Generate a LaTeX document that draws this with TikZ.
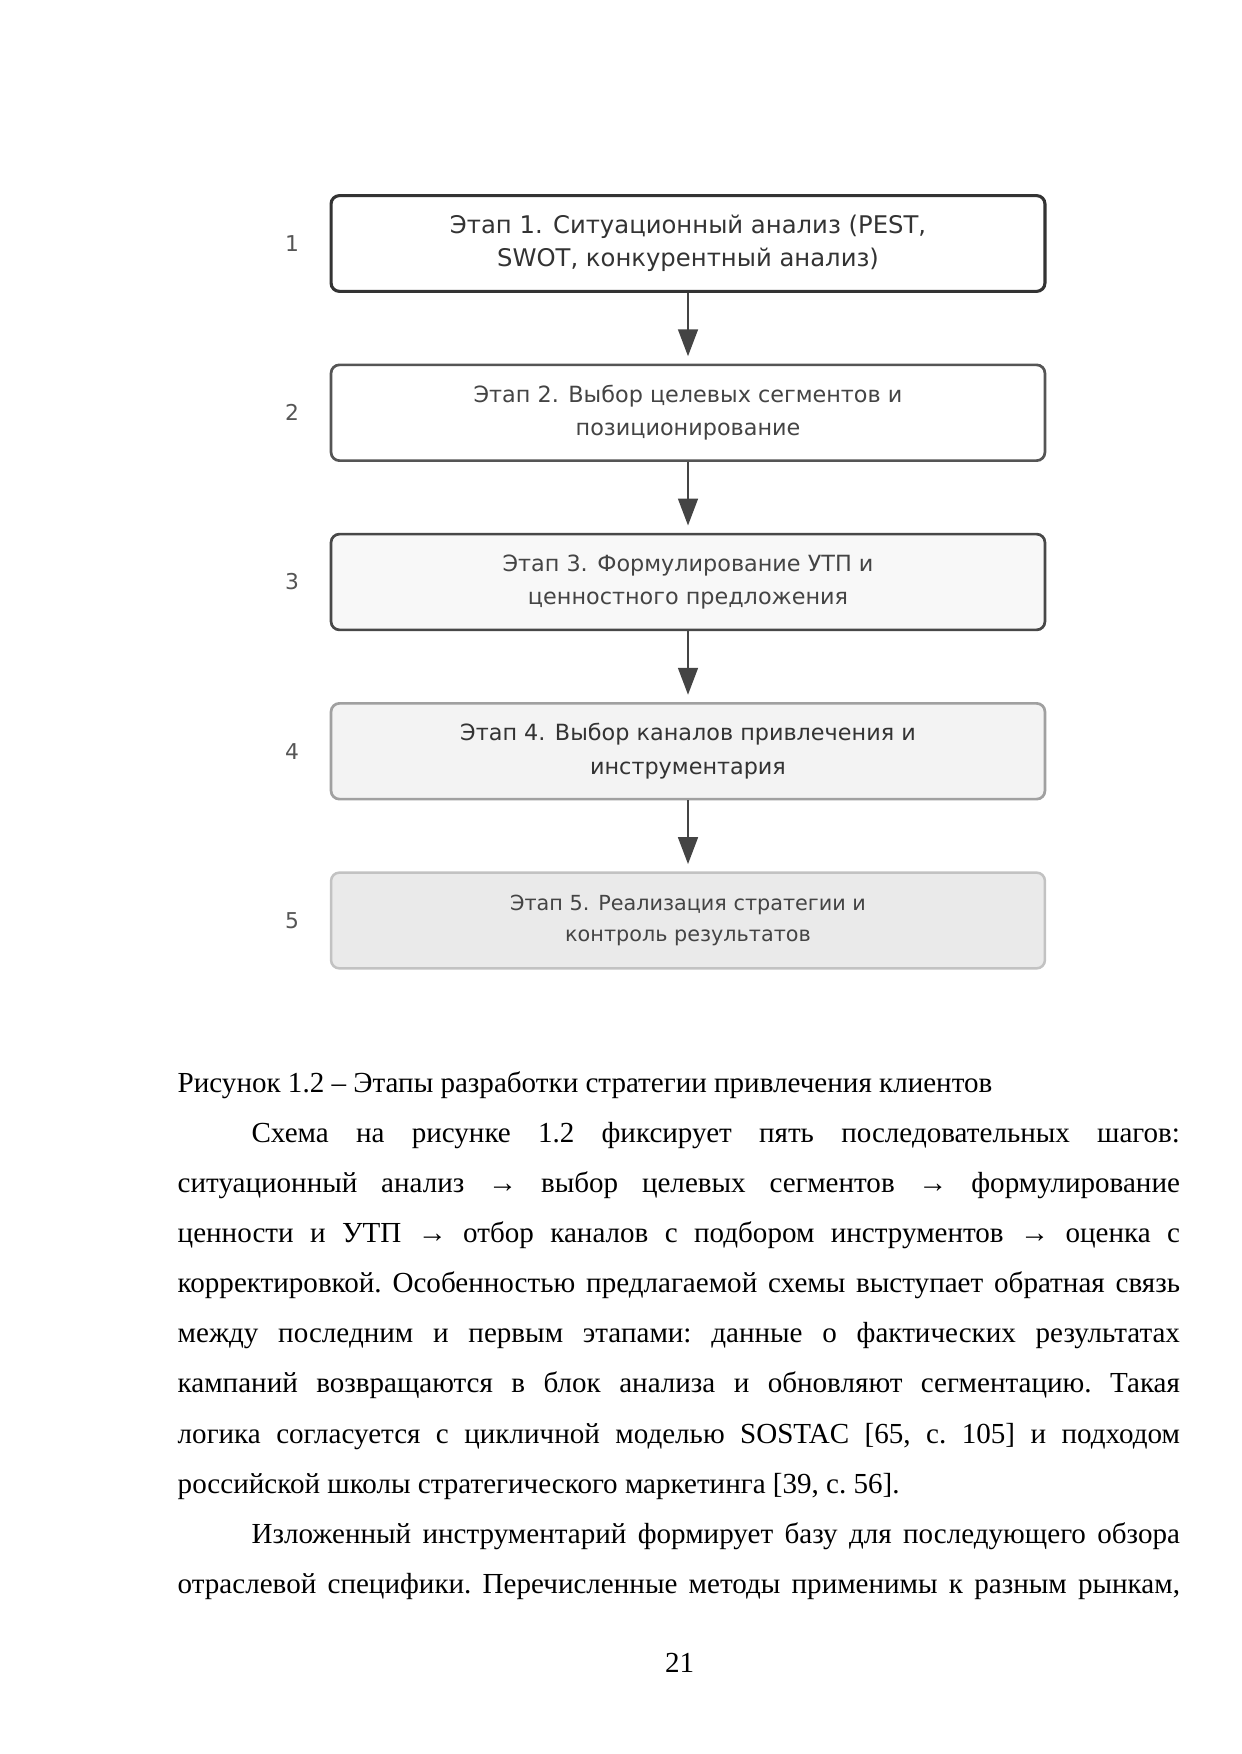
\documentclass[tikz,border=0pt]{standalone}
\usepackage{fontspec}
\setmainfont{Liberation Serif}
\newfontfamily\djv{DejaVu Sans}
\usetikzlibrary{arrows.meta}
\definecolor{bordA}{HTML}{333333}
\definecolor{bordB}{HTML}{555555}
\definecolor{bordC}{HTML}{484848}
\definecolor{bordD}{HTML}{A0A0A0}
\definecolor{bordE}{HTML}{C2C2C2}
\definecolor{fillC}{HTML}{F8F8F8}
\definecolor{fillD}{HTML}{F3F3F3}
\definecolor{fillE}{HTML}{EAEAEA}
\definecolor{txtA}{HTML}{333333}
\definecolor{txtB}{HTML}{444444}
\definecolor{numc}{HTML}{555555}
\definecolor{arrc}{HTML}{444444}
\tikzset{
  stagebox/.style={draw, rounded corners=4pt, minimum width=120.8mm, minimum height=16.2mm,
    inner sep=0pt, align=center, font=\djv\fontsize{10.75pt}{16pt}\selectfont},
  stagenum/.style={font=\djv\fontsize{10.5pt}{12pt}\selectfont, text=numc, inner sep=0pt},
  flowarrow/.style={draw=arrc, line width=1.2pt, -{Triangle[length=13pt,width=9.5pt]}, shorten >=3.5pt}
}
\begin{document}
\begin{tikzpicture}[x=0.169218mm,y=-0.169218mm]
\useasboundingbox (0,0) rectangle (1241,1754);
\fill[white] (0,0) rectangle (1241,1754);

\node[stagebox, draw=bordA, line width=1.5pt, fill=white, text=txtA,
  font=\djv\fontsize{11.7pt}{16pt}\selectfont] (b1) at (688,243.5)
  {Этап 1. Ситуационный анализ (PEST,\\SWOT, конкурентный анализ)};
\node[stagebox, draw=bordB, line width=1.3pt, fill=white, text=txtB] (b2) at (688,412.75)
  {Этап 2. Выбор целевых сегментов и\\позиционирование};
\node[stagebox, draw=bordC, line width=1.3pt, fill=fillC, text=txtB] (b3) at (688,582)
  {Этап 3. Формулирование УТП и\\ценностного предложения};
\node[stagebox, draw=bordD, line width=1.3pt, fill=fillD, text=txtA] (b4) at (688,751.25)
  {Этап 4. Выбор каналов привлечения и\\инструментария};
\node[stagebox, draw=bordE, line width=1.2pt, fill=fillE, text=txtB,
  font=\djv\fontsize{10pt}{15pt}\selectfont] (b5) at (688,920.5)
  {Этап 5. Реализация стратегии и\\контроль результатов};

\node[stagenum] (n1) at (292,243.5) {1};
\node[stagenum] (n2) at (292,412.75) {2};
\node[stagenum] (n3) at (292,582) {3};
\node[stagenum] (n4) at (292,751.25) {4};
\node[stagenum] (n5) at (292,920.5) {5};

\draw[flowarrow] (b1.south) -- (b2.north);
\draw[flowarrow] (b2.south) -- (b3.north);
\draw[flowarrow] (b3.south) -- (b4.north);
\draw[flowarrow] (b4.south) -- (b5.north);

\node[anchor=base west, inner sep=0pt] (body) at (177.3,1092) {\parbox[t]{169.6mm}{%
\fontsize{14pt}{24.15pt}\selectfont\frenchspacing
\tolerance=10000 \hyphenpenalty=10000 \exhyphenpenalty=10000
\setlength{\parindent}{1.25cm}\setlength{\parskip}{0pt}%
\noindent Рисунок 1.2 – Этапы разработки стратегии привлечения клиентов\par
Схема на рисунке 1.2 фиксирует пять последовательных шагов:\linebreak
ситуационный анализ → выбор целевых сегментов → формулирование\linebreak
ценности и УТП → отбор каналов с подбором инструментов → оценка с\linebreak
корректировкой. Особенностью предлагаемой схемы выступает обратная связь\linebreak
между последним и первым этапами: данные о фактических результатах\linebreak
кампаний возвращаются в блок анализа и обновляют сегментацию. Такая\linebreak
логика согласуется с цикличной моделью SOSTAC [65, с. 105] и подходом\linebreak
российской школы стратегического маркетинга [39, с. 56].\par
Изложенный инструментарий формирует базу для последующего обзора\linebreak
отраслевой специфики. Перечисленные методы применимы к разным рынкам,{\parfillskip=0pt\par}}};

\node[anchor=base, inner sep=0pt, font=\fontsize{14pt}{17pt}\selectfont] (pnum) at (679.6,1672) {21};
\end{tikzpicture}
\end{document}
